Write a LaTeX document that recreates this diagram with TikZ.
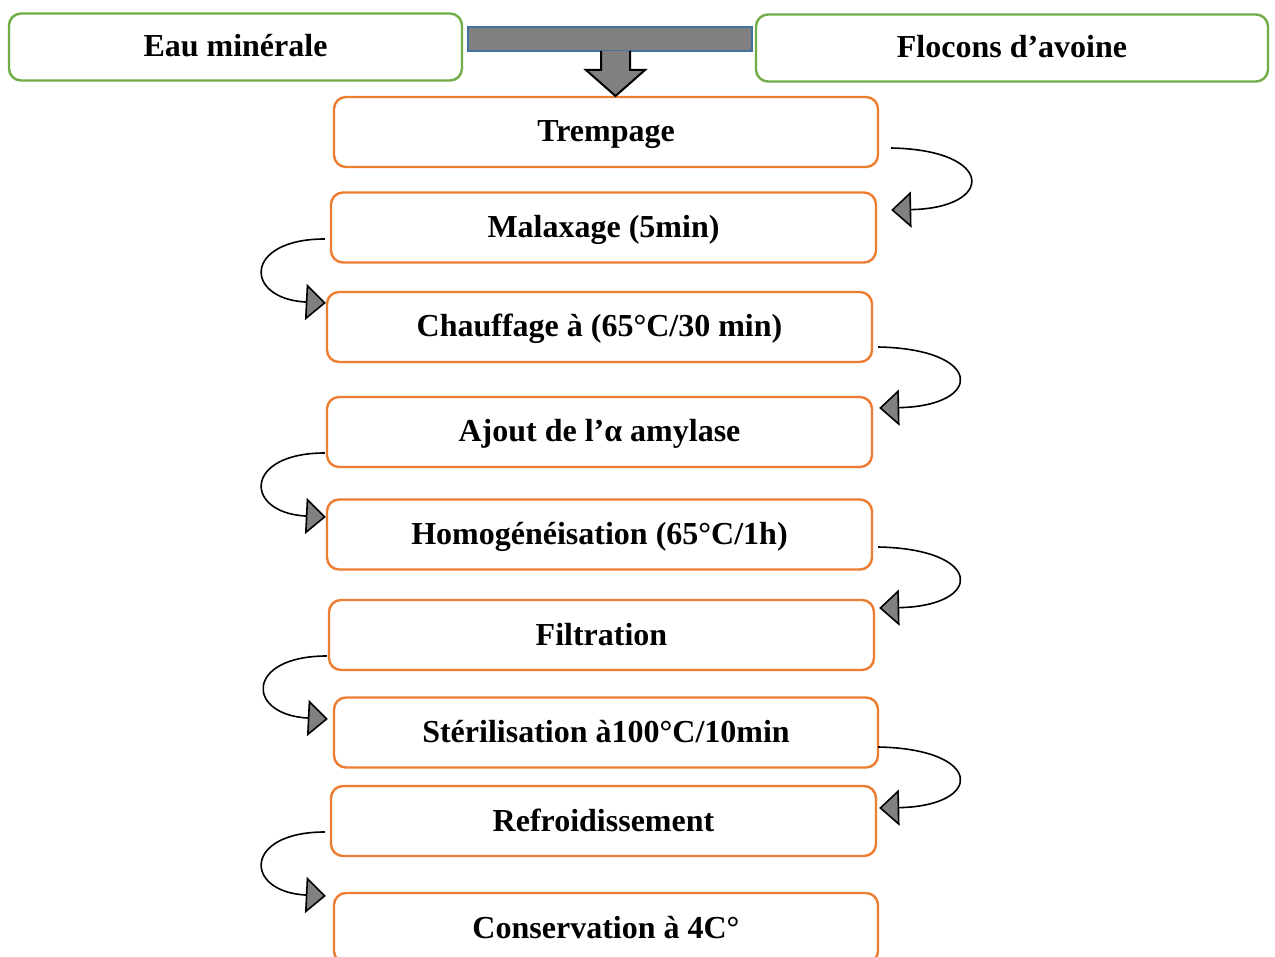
\documentclass[tikz,border=0pt]{standalone}
\usepackage{fontspec}
\setmainfont{Liberation Serif}
\usetikzlibrary{arrows.meta}
\definecolor{boxorange}{HTML}{ED7D31}
\definecolor{boxgreen}{HTML}{70AD47}
\definecolor{barblue}{HTML}{41719C}
\begin{document}
\begin{tikzpicture}[x=1pt,y=-1pt,
  every node/.style={font=\fontsize{32}{38}\selectfont\bfseries, inner sep=0pt,
    text height=25pt, text depth=5pt},
  stepbox/.style={draw=boxorange, line width=2.4pt, rounded corners=12pt, fill=white,
    minimum width=545pt, minimum height=70pt},
  inbox/.style={draw=boxgreen, line width=2.4pt, rounded corners=12pt, fill=white,
    minimum height=67pt},
  curvearrow/.style={line width=1.6pt, black,
    -{Triangle[length=20pt,width=36pt,fill=gray]}},
  blockarrow/.style={draw=black, line width=2pt, fill=gray}
]
\useasboundingbox (0,0) rectangle (1275,957);
\clip (0,0) rectangle (1275,957);

% inputs
\node[inbox, minimum width=453pt] (eau) at (235.5,47) {Eau minérale};
\node[inbox, minimum width=512pt] (flocons) at (1012,48) {Flocons d’avoine};
\node[draw=barblue, line width=2pt, fill=gray, minimum width=284pt, minimum height=24pt,
  text height=0pt, text depth=0pt] (bar) at (610,39) {};

% steps
\node[stepbox, minimum width=544pt] (tremp) at (606,132) {Trempage};
\node[stepbox] (malax) at (603.5,227.5) {Malaxage (5min)};
\node[stepbox] (chauf) at (599.5,327) {Chauffage à (65°C/30 min)};
\node[stepbox] (ajout) at (599.5,432) {Ajout de l’α amylase};
\node[stepbox] (homog) at (599.5,534.5) {Homogénéisation (65°C/1h)};
\node[stepbox] (filtr) at (601.5,635) {Filtration};
\node[stepbox, minimum width=544pt] (steril) at (606,732.5) {Stérilisation à100°C/10min};
\node[stepbox] (refr) at (603.5,821) {Refroidissement};
\node[stepbox, minimum width=544pt] (cons) at (606,928) {Conservation à 4C°};

% block arrow from bar to first step
\coordinate (sl) at (601,51);
\coordinate (sr) at (630,51);
\draw[blockarrow] (sl) -- (601,70) -- (586,70) -- (615.5,96) -- (645,70) -- (630,70) -- (sr);

% right-side curved arrows
\draw[curvearrow] ([shift={(12,16)}]tremp.east) .. controls +(104,2) and +(104,-2) .. ([shift={(14,-17.5)}]malax.east);
\draw[curvearrow] ([shift={(5,20)}]chauf.east) .. controls +(106,2) and +(105,-2) .. ([shift={(6,-24)}]ajout.east);
\draw[curvearrow] ([shift={(5,12.5)}]homog.east) .. controls +(106,2) and +(105,-2) .. ([shift={(4,-27)}]filtr.east);
\draw[curvearrow] ([shift={(-1,14.5)}]steril.east) .. controls +(106,2) and +(105,-2) .. ([shift={(2,-13)}]refr.east);

% left-side curved arrows
\draw[curvearrow] ([shift={(-5,11.5)}]malax.west) .. controls +(-82,0) and +(-82,-4) .. ([shift={(0,-24)}]chauf.west);
\draw[curvearrow] ([shift={(-1,21)}]ajout.west) .. controls +(-82,0) and +(-82,-4) .. ([shift={(0,-17.5)}]homog.west);
\draw[curvearrow] ([shift={(-1,21)}]filtr.west) .. controls +(-82,0) and +(-82,-4) .. ([shift={(-5,-13.5)}]steril.west);
\draw[curvearrow] ([shift={(-5,11)}]refr.west) .. controls +(-82,0) and +(-82,-4) .. ([shift={(-7,-32)}]cons.west);
\end{tikzpicture}
\end{document}
